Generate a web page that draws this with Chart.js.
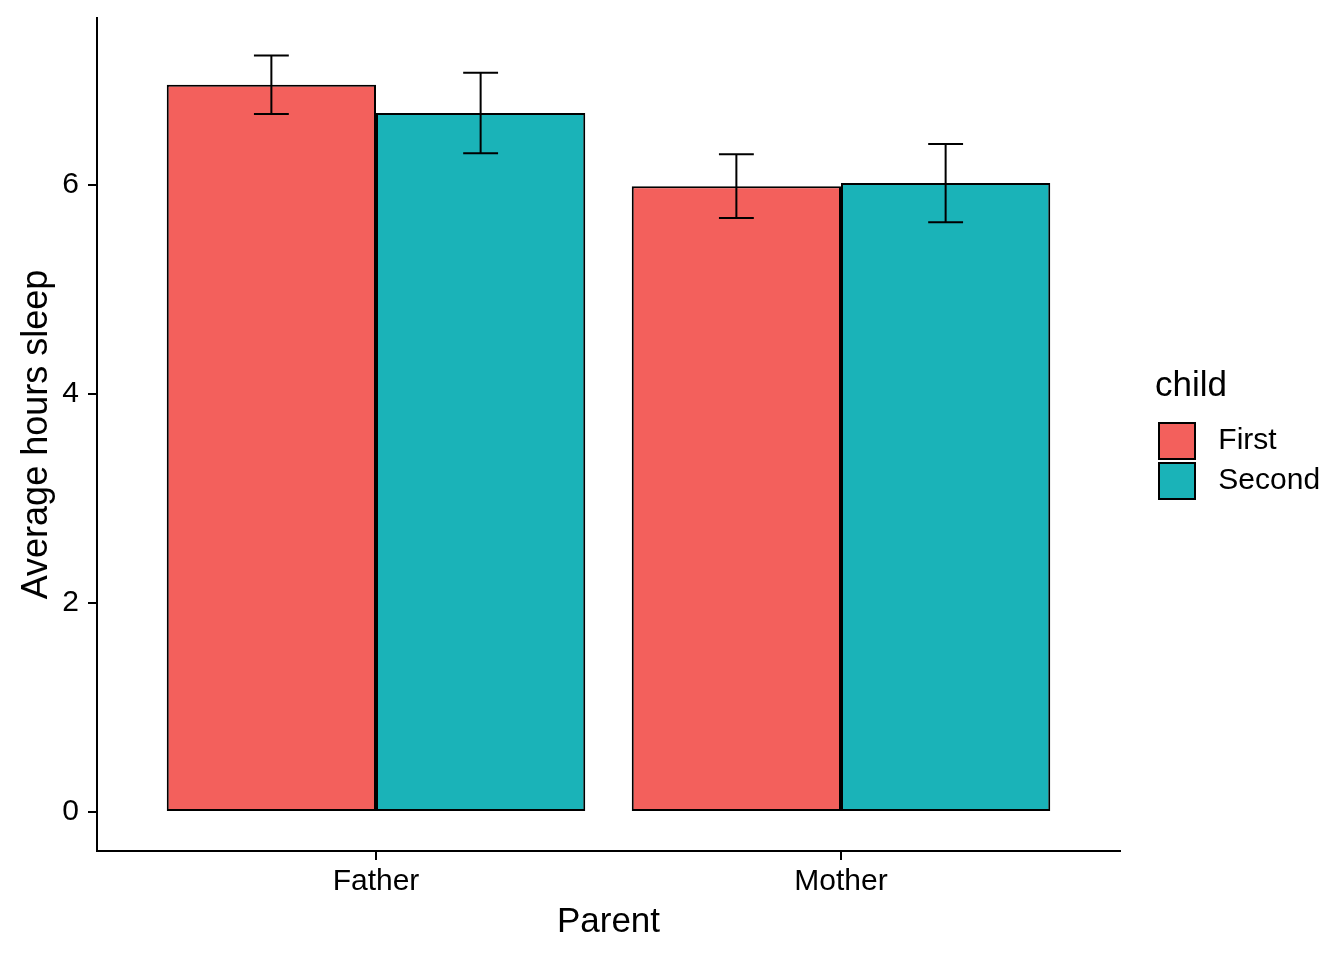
<!DOCTYPE html>
<html>
<head>
<meta charset="utf-8">
<title>Average hours sleep by parent</title>
<script src="https://cdn.jsdelivr.net/npm/chart.js@4"></script>
<style>
  html, body { margin: 0; padding: 0; background: #fff; }
  #wrap { width: 1344px; height: 960px; }
</style>
</head>
<body>
<div id="wrap"><canvas id="mycanvas" width="1344" height="960"></canvas></div>
<script>
// ** sleep by parent / child, bars with error bars

var parents = ['Father', 'Mother'];
var parentPos = [1, 2];
var childNames = ['First', 'Second'];
var firstMeans = [6.96, 5.99];
var firstErr = [0.28, 0.305];
var secondMeans = [6.69, 6.02];
var secondErr = [0.385, 0.375];
var yTicks = [0, 2, 4, 6];

var red = '#F3605C';
var teal = '#1AB3B8';
var font = "'Liberation Sans', Arial, Helvetica, sans-serif";

function points(vals) {
	var out = [];
	for (var i in vals) {
		out.push({x: parentPos[i], y: vals[i]});
	}
	return out;
}

var errs = [firstErr, secondErr];

// draws the whiskers on top of each bar
var errorBars = {
	id: 'errorBars',
	afterDatasetsDraw: function(chart) {
		var ctx = chart.ctx;
		var ys = chart.scales.y;
		var xs = chart.scales.x;
		var cap = (xs.getPixelForValue(0.0375) - xs.getPixelForValue(0));
		ctx.save();
		ctx.strokeStyle = '#000';
		ctx.lineWidth = 2;
		chart.data.datasets.forEach(function(ds, i) {
			var meta = chart.getDatasetMeta(i);
			meta.data.forEach(function(bar, j) {
				var v = ds.data[j].y;
				var hi = ys.getPixelForValue(v + errs[i][j]);
				var lo = ys.getPixelForValue(v - errs[i][j]);
				ctx.beginPath();
				ctx.moveTo(bar.x, hi); ctx.lineTo(bar.x, lo);
				ctx.moveTo(bar.x - cap, hi); ctx.lineTo(bar.x + cap, hi);
				ctx.moveTo(bar.x - cap, lo); ctx.lineTo(bar.x + cap, lo);
				ctx.stroke();
			});
		});
		ctx.restore();
	}
};

// legend sits right of the panel, box column a bit in from the panel edge
var legendPlace = {
	id: 'legendPlace',
	beforeUpdate: function(chart) {
		var lg = chart.legend;
		if (lg && !lg._fitWrapped) {
			var f = lg.fit;
			lg.fit = function() {
				f.call(this);
				this.width = 224;
			};
			lg._fitWrapped = true;
		}
	},
	afterLayout: function(chart) {
		chart.legend.left = 1155;
	}
};

var ctx = document.getElementById('mycanvas');

var chart = new Chart(ctx, {
	type: 'bar',
	data: {
		datasets: [{
			label: childNames[0],
			data: points(firstMeans),
			backgroundColor: red,
			borderColor: '#000',
			borderWidth: 2,
			borderSkipped: false
		}, {
			label: childNames[1],
			data: points(secondMeans),
			backgroundColor: teal,
			borderColor: '#000',
			borderWidth: 2,
			borderSkipped: false
		}]
	},
	options: {
		responsive: false,
		animation: false,
		devicePixelRatio: 1,
		categoryPercentage: 0.9,
		barPercentage: 1.0,
		layout: { padding: { top: 18, right: 0, bottom: 0, left: 0 } },
		scales: {
			x: {
				type: 'linear',
				offset: false,
				min: 0.4,
				max: 2.6,
				afterBuildTicks: function(scale) {
					scale.ticks = parentPos.map(function(p) { return {value: p}; });
				},
				afterFit: function(scale) {
					scale.height = 109;
					scale.paddingLeft = 0;
					scale.paddingRight = 0;
				},
				grid: { offset: false, drawOnChartArea: false, drawTicks: true, tickLength: 9, color: '#000', lineWidth: 2 },
				border: { display: true, color: '#000', width: 2 },
				ticks: {
					color: '#000',
					padding: 4,
					font: { family: font, size: 30 },
					callback: function(v) {
						var k = parentPos.indexOf(v);
						return k >= 0 ? parents[k] : '';
					}
				},
				title: {
					display: true,
					text: 'Parent',
					color: '#000',
					font: { family: font, size: 35 },
					padding: { top: 0, bottom: 17 }
				}
			},
			y: {
				min: -0.373,
				max: 7.6,
				afterBuildTicks: function(scale) {
					scale.ticks = yTicks.map(function(t) { return {value: t}; });
				},
				afterFit: function(scale) {
					scale.width = 97;
					scale.paddingTop = 0;
					scale.paddingBottom = 0;
				},
				grid: { drawOnChartArea: false, drawTicks: true, tickLength: 9, color: '#000', lineWidth: 2 },
				border: { display: true, color: '#000', width: 2 },
				ticks: {
					color: '#000',
					padding: 9,
					font: { family: font, size: 30 }
				},
				title: {
					display: true,
					text: 'Average hours sleep',
					color: '#000',
					font: { family: font, size: 36 },
					padding: { top: 15, bottom: 0 }
				}
			}
		},
		plugins: {
			legend: {
				position: 'right',
				align: 'center',
				fullSize: false,
				title: {
					display: true,
					text: 'child',
					color: '#000',
					position: 'start',
					font: { family: font, size: 35 },
					padding: { top: 3, bottom: 8 }
				},
				labels: {
					boxWidth: 36,
					boxHeight: 36,
					padding: 4,
					color: '#000',
					font: { family: font, size: 30 },
					generateLabels: function(chart) {
						var items = Chart.defaults.plugins.legend.labels.generateLabels(chart);
						items.forEach(function(it) { it.text = ' ' + it.text; });
						return items;
					}
				}
			},
			tooltip: { enabled: false }
		}
	},
	plugins: [errorBars, legendPlace]
});
</script>
</body>
</html>
